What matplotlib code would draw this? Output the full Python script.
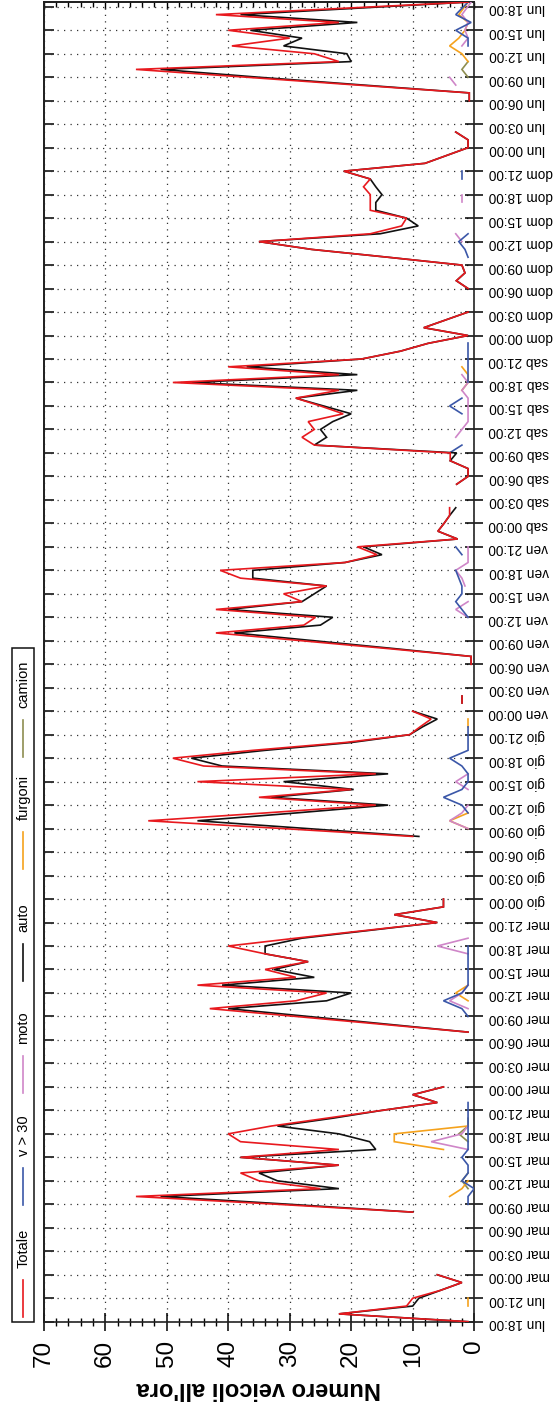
import matplotlib
matplotlib.use('Agg')
import matplotlib.pyplot as plt
import numpy as np
from matplotlib.lines import Line2D
from matplotlib.patches import Rectangle
from matplotlib.ticker import MultipleLocator

plt.rcParams['font.family'] = ['Liberation Sans', 'DejaVu Sans']

# ---------------- data (hour index from lun 18:00, segments: (start_hour, values)) ----
LAST_READING_H = 168.6
days = ['lun', 'mar', 'mer', 'gio', 'ven', 'sab', 'dom']
start_hour = 18

totale = [
    (0, [1, 22, 11, 10, 5.5, 2, 6]),
    (14, [10, 32, 55, 25, 35, 38, 22, 38, 22, 38, 40, 33, 24, 15, 6, 10, 5]),
    (37, [1, 15, 29, 43, 29, 24, 45, 29, 34, 27, 34, 40, 29, 17.5, 6, 13, 5, 5]),
    (62, [10, 31, 53, 34, 16, 35, 20, 45, 16, 44, 49, 36, 21, 10.5, 8.8, 7, 10]),
    (79, [2, 2]),
    (84, [0.5, 0.5, 14, 28, 42, 27.7, 25.8, 42, 28, 31, 24, 38, 41.3, 21, 15.8, 19,
          2.7, 5.9, 4.9, 4, 4]),
    (107, [2.85, 1, 1, 3.9, 3.9, 26, 28, 26, 27, 21.3, 25, 29, 22, 49, 22, 40, 18.3,
           12, 7.5, 1, 8.2, 4.6, 1]),
    (132, [1, 2.9, 1.5, 2, 14, 26.4, 35, 16.9, 11.8, 11, 16.9, 16.9, 16.9, 18, 16.9,
           21.2, 8, 4.5, 1, 1, 3]),
    (156, [0.8, 0.8, 19, 37, 55, 22, 26, 39.4, 30, 40, 22, 42, 1]),
]

auto = [
    (0, [1, 22, 10, 9, 5.5, 2, 6]),
    (14, [10, 30, 51, 22, 32, 35, 22, 38, 16, 17, 22, 32, 23, 15, 6, 10, 5]),
    (37, [1, 14, 27, 40, 24, 20, 41, 26, 32.6, 27, 34, 34, 28, 17, 6, 13, 5, 5]),
    (62, [9, 27, 45, 29, 14, 33, 19.6, 31, 14, 41, 46, 34, 20, 10.5, 8.4, 6, 10]),
    (79, [2, 2]),
    (84, [0.5, 0.5, 13, 26, 39, 25, 23, 40, 28, 26, 24, 36, 36, 21, 15, 18,
          2.7, 5.9, 4.9, 4, 3]),
    (107, [2.85, 1, 1, 3.9, 2.85, 26, 24, 25, 23, 20, 24.5, 29, 19, 46, 19, 37, 18.3,
           12, 7.5, 1, 8.2, 4.6, 1]),
    (132, [1, 2.9, 1.5, 2, 14, 26.4, 35, 15.3, 9.1, 11, 16, 16, 15, 16, 16.9,
           21.2, 8, 4.5, 1, 1, 3]),
    (156, [0.8, 0.8, 18, 35, 51, 20, 20.7, 31, 28, 36.4, 19, 38, 1]),
]

v30 = [
    (15, [1, 1, 0, 2, 1, 1, 2, 1, 1, 1, 1, 1, 1, 1]),
    (39, [1, 2, 5, 2, 1, 1, 1, 1, 1, 1]),
    (65, [1, 2, 5, 2, 1, 1, 2, 4, 1, 1, 1, 1]),
    (90, [1, 2, 3, 2, 2, 2.5, 3]),
    (98, [2, 3]),
    (111, [4, 2]),
    (116, [2, 4, 2]),
    (120, [1, 1, 1, 1, 1, 1]),
    (136, [1, 1.5, 2.5, 1]),
    (146, [2, 2]),
    (163, [1, 1, 3, 0.5, 3, 1]),
]

moto = [
    (22, [1, 7, 2, 1]),
    (40, [1, 4, 2, 1]),
    (47, [1, 6, 1]),
    (63, [1, 4, 2, 1]),
    (68, [1, 3, 1]),
    (90, [1, 3, 1]),
    (94, [1.5, 2, 3, 1, 1, 1]),
    (113, [3, 2, 1, 1, 1, 1, 2, 1, 2]),
    (138, [2, 3]),
    (143, [2, 2]),
    (158, [3, 4]),
    (163, [2, 1, 1.5, 1, 2, 0.5]),
]

furgoni = [
    (2, [1, 1]),
    (16, [4, 2, 1]),
    (22, [5, 13, 13, 1]),
    (41, [1, 3, 1]),
    (63, [1, 4, 1]),
    (76, [1, 1]),
    (119, [2, 1, 1, 2]),
    (161, [1, 2, 4, 2.5, 1.5, 1, 2.5, 1]),
]

camion = [
    (17, [1, 2, 1]),
    (23, [1, 2.5, 1, 1]),
    (159, [1, 2, 1]),
]

legend_names = ['Totale', 'v > 30', 'moto', 'auto', 'furgoni', 'camion']
colors = {'Totale': '#e8191e', 'v > 30': '#3b57a8', 'moto': '#cf86c8',
          'auto': '#111111', 'furgoni': '#f5a21c', 'camion': '#8e8e50'}
series = {'Totale': totale, 'v > 30': v30, 'moto': moto, 'auto': auto,
          'furgoni': furgoni, 'camion': camion}

# ---------------- figure ----------------
W, H = 555, 1408
fig = plt.figure(figsize=(W / 100, H / 100), dpi=100)


def fx(px):
    return px / W


def fy(py):
    return 1 - py / H


L, R, T, B = 43.7, 474.2, 2.1, 1321.7
ax = fig.add_axes([fx(L), fy(B), fx(R) - fx(L), fy(T) - fy(B)])

hours = np.arange(169, dtype=float)
hours[-1] = LAST_READING_H

draw_order = ['camion', 'furgoni', 'moto', 'v > 30', 'auto', 'Totale']
for name in draw_order:
    for start, vals in series[name]:
        t = hours[start:start + len(vals)]
        ax.plot(vals, t, color=colors[name], lw=1.2, solid_joinstyle='miter', zorder=3)

ax.set_xlim(70, 0)
ax.set_ylim(0, LAST_READING_H)

# value axis (bottom)
ax.set_xticks(np.arange(0, 71, 10))
ax.xaxis.set_minor_locator(MultipleLocator(2))
ax.tick_params(axis='x', which='major', direction='inout', length=13, width=1.1,
               labelsize=17.5, labelrotation=90, pad=6.5, top=False)
ax.tick_params(axis='x', which='minor', direction='inout', length=6.2, width=1.0, top=False)

# time axis (right)
tick_h = np.arange(0, 169, 3)
tick_labels = [f"{days[((start_hour + h) // 24) % 7]} {(start_hour + h) % 24:02d}:00" for h in tick_h]
ax.set_yticks(tick_h)
ax.set_yticklabels(tick_labels)
ax.yaxis.tick_right()
ax.tick_params(axis='y', which='major', direction='inout', length=13, width=1.1,
               labelsize=9.8, labelrotation=180, pad=4.0, left=False)

ax.grid(True, which='major', linestyle=(0, (1, 4.2)), color='#333333', lw=0.9)
ax.set_axisbelow(True)
for s in ax.spines.values():
    s.set_linewidth(1.2)
    s.set_color('#222222')

# mirrored ticks on top and left
secx = ax.secondary_xaxis('top')
secx.set_xticks(np.arange(0, 71, 10))
secx.xaxis.set_minor_locator(MultipleLocator(2))
secx.tick_params(which='major', direction='in', length=5, width=1.0, labeltop=False)
secx.tick_params(which='minor', direction='in', length=3.5, width=1.0)
secx.spines['top'].set_linewidth(1.2)

secy = ax.secondary_yaxis('left')
secy.set_yticks(tick_h)
secy.tick_params(which='major', direction='in', length=7, width=1.1, labelleft=False)
secy.spines['left'].set_linewidth(1.2)

ax.set_xlabel("Numero veicoli all'ora", fontsize=17, fontweight='bold', rotation=180)
ax.xaxis.set_label_coords(0.5, (B - 1388.5) / (B - T))
ax.xaxis.label.set_va('center')

# legend (rotated, drawn by hand)
fig.add_artist(Rectangle((fx(12.4), fy(B)), fx(33.6) - fx(12.4), fy(648) - fy(B),
                         transform=fig.transFigure, fill=False, lw=1.1, ec='#111111'))
for i, name in enumerate(legend_names):
    off = 112 * i
    fig.add_artist(Line2D([fx(23), fx(23)], [fy(1317 - off), fy(1280 - off)],
                          transform=fig.transFigure, color=colors[name], lw=1.2))
    fig.text(fx(23.5), fy(1268 - off), name, rotation=90, ha='center', va='bottom',
             fontsize=10.5)

fig.savefig('out.png', dpi=100)
